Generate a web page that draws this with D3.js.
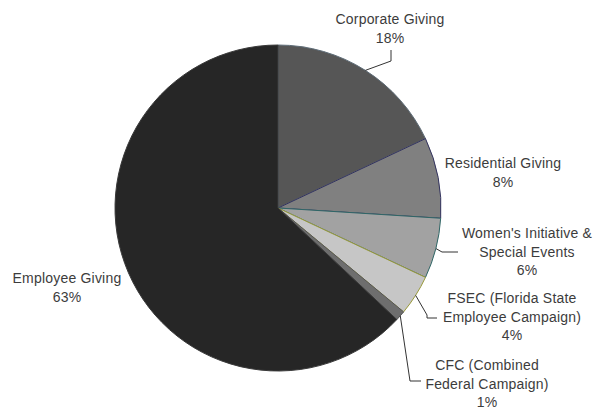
<!DOCTYPE html>
<html>
<head>
<meta charset="utf-8">
<script src="https://cdn.jsdelivr.net/npm/d3@7"></script>
<style>
  html, body { margin: 0; padding: 0; background: #fff; }
  svg text { font-family: "Liberation Sans", Arial, sans-serif; font-size: 14px; fill: #3c3c3c; letter-spacing: 0.2px; }
</style>
</head>
<body>
<svg id="chart" width="607" height="417"></svg>
<script>
// ---- data ----
const categories = [
  "Corporate Giving",
  "Residential Giving",
  "Women's Initiative & Special Events",
  "FSEC (Florida State Employee Campaign)",
  "CFC (Combined Federal Campaign)",
  "Employee Giving"
];
const values = [18, 8, 6, 4, 1, 63];
const percentLabels = ["18%", "8%", "6%", "4%", "1%", "63%"];
const labelLines = [
  ["Corporate Giving"],
  ["Residential Giving"],
  ["Women's Initiative &", "Special Events"],
  ["FSEC (Florida State", "Employee Campaign)"],
  ["CFC (Combined", "Federal Campaign)"],
  ["Employee Giving"]
];

// ---- styles / layout ----
const fills = ["#565656", "#808080", "#a2a2a2", "#c6c6c6", "#6e6e6e", "#262626"];
const strokes = ["#5f6d78", "#33335f", "#2f6666", "#9a9a3a", "#555555", "#3a3a3a"];
const cx = 278, cy = 208, R = 163;
// label anchor (center x, first baseline y) and leader elbow points
const labelLayout = [
  { x: 390, y: 24, leader: [[391, 61], [391, 50]] },
  { x: 503, y: 168, leader: null },
  { x: 527, y: 238, leader: [[442, 252], [458, 252]] },
  { x: 512, y: 303, leader: [[427, 315], [427, 318], [437, 318]] },
  { x: 487, y: 370, leader: [[410, 381], [421, 381]] },
  { x: 67, y: 283, leader: null }
];
const lineH = 18.5;

const svg = d3.select("#chart");
const g = svg.append("g").attr("transform", `translate(${cx},${cy})`);

const pie = d3.pie().sort(null).value(d => d)(values);
const arc = d3.arc().innerRadius(0).outerRadius(R);

g.selectAll("path.slice")
  .data(pie)
  .join("path")
  .attr("class", "slice")
  .attr("d", arc)
  .attr("fill", (d, i) => fills[i])
  .attr("stroke", (d, i) => strokes[i])
  .attr("stroke-width", 1);

// leader lines: from the slice's outer edge at its mid-angle to the label
pie.forEach((d, i) => {
  const L = labelLayout[i];
  if (!L.leader) return;
  const mid = (d.startAngle + d.endAngle) / 2;
  const start = [cx + R * Math.sin(mid), cy - R * Math.cos(mid)];
  svg.append("path")
    .attr("d", d3.line()([start, ...L.leader]))
    .attr("fill", "none")
    .attr("stroke", "#333")
    .attr("stroke-width", 1);
});

// labels
pie.forEach((d, i) => {
  const L = labelLayout[i];
  const t = svg.append("text").attr("text-anchor", "middle");
  const lines = [...labelLines[i], percentLabels[i]];
  lines.forEach((s, k) => {
    t.append("tspan").attr("x", L.x).attr("y", L.y + k * lineH).text(s);
  });
});
</script>
</body>
</html>
